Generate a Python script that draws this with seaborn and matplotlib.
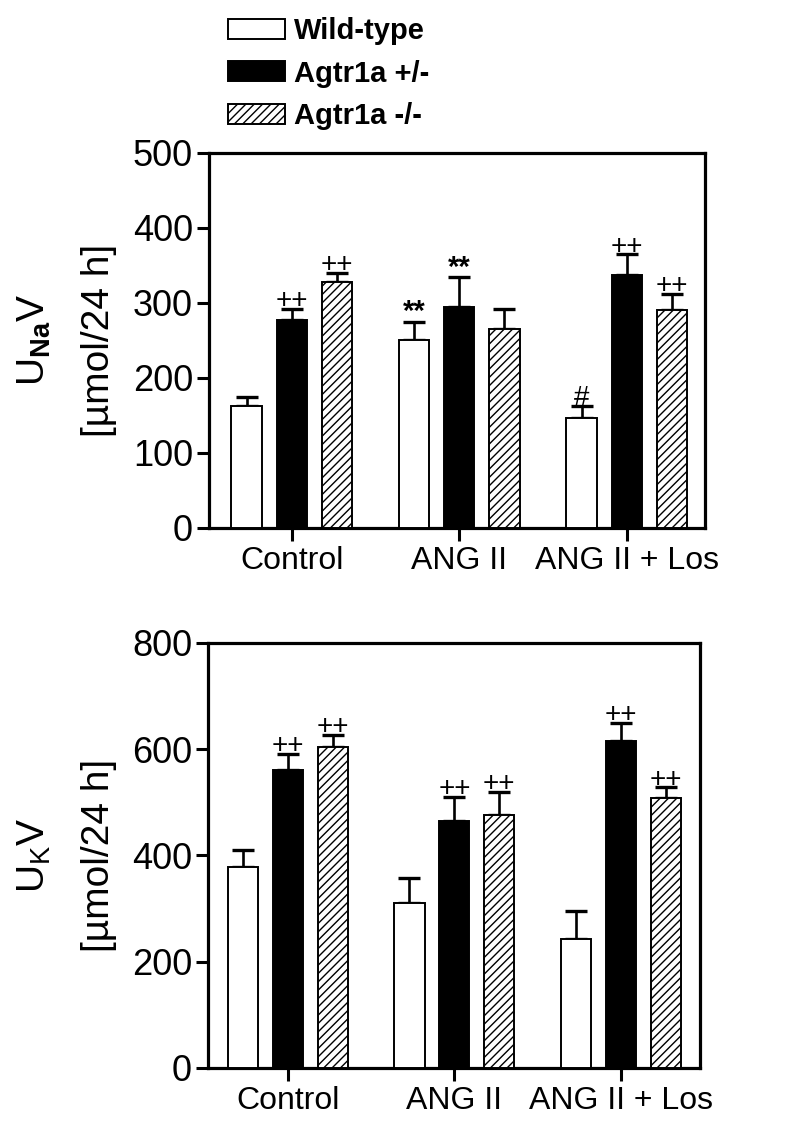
import numpy as np
import pandas as pd
import matplotlib
matplotlib.use("Agg")
import matplotlib.pyplot as plt
from matplotlib.patches import Patch
from matplotlib.container import BarContainer
import seaborn as sns

sns.set_style("ticks")
plt.rcParams['font.family'] = ['Liberation Sans', 'DejaVu Sans']
plt.rcParams['mathtext.fontset'] = 'custom'
plt.rcParams['mathtext.rm'] = 'Liberation Sans'
plt.rcParams['mathtext.bf'] = 'Liberation Sans:bold'
plt.rcParams['mathtext.it'] = 'Liberation Sans:italic'
plt.rcParams['hatch.linewidth'] = 1.0
for k in ['text.color', 'axes.labelcolor', 'xtick.color', 'ytick.color']:
    plt.rcParams[k] = 'black'

groups = ["Control", "ANG II", "ANG II + Los"]
genotypes = ["Wild-type", "Agtr1a +/-", "Agtr1a -/-"]

# sodium excretion (umol/24 h), one list per genotype in group order
una_wt = [163, 251, 147]
una_het = [277, 295, 337]
una_ko = [328, 265, 291]
una_wt_err = [11, 24, 16]
una_het_err = [15, 39, 28]
una_ko_err = [12, 27, 21]
una_marks_wt = ["", "**", "#"]
una_marks_het = ["++", "**", "++"]
una_marks_ko = ["++", "", "++"]

# potassium excretion (umol/24 h)
uk_wt = [378, 310, 242]
uk_het = [560, 465, 615]
uk_ko = [605, 476, 508]
uk_wt_err = [32, 48, 54]
uk_het_err = [31, 46, 35]
uk_ko_err = [22, 44, 20]
uk_marks_wt = ["", "", ""]
uk_marks_het = ["++", "++", "++"]
uk_marks_ko = ["++", "++", "++"]

hatches = ["", "", "////"]


def draw_panel(ax, means, errs, marks, ymax, ystep, ylabel, xlim):
    df = pd.DataFrame({
        "group": np.tile(groups, 3),
        "genotype": np.repeat(genotypes, 3),
        "value": np.concatenate(means),
    })
    sns.barplot(data=df, x="group", y="value", hue="genotype", order=groups,
                hue_order=genotypes, palette=["white", "black", "white"],
                saturation=1, width=0.81, gap=0.33, edgecolor="black",
                linewidth=1.4, errorbar=None, legend=False, ax=ax, zorder=3)

    bar_conts = [c for c in ax.containers if isinstance(c, BarContainer)]
    for i, cont in enumerate(bar_conts):
        bars = sorted(cont.patches, key=lambda p: p.get_x())
        xs = [p.get_x() + p.get_width() / 2 for p in bars]
        hs = [p.get_height() for p in bars]
        for p in bars:
            p.set_hatch(hatches[i])
        ax.errorbar(xs, hs, yerr=[np.zeros(3), errs[i]], fmt="none",
                    ecolor="black", elinewidth=1.9, capsize=8, capthick=2.4,
                    zorder=2)
        for x, h, e, m in zip(xs, hs, errs[i], marks[i]):
            if m:
                star = m.startswith("*")
                ax.annotate(m, (x, h + e), xytext=(0, 1 if star else 0.5),
                            textcoords="offset points", ha="center",
                            va="baseline", fontsize=21 if star else 20,
                            fontweight="bold" if star else "normal",
                            color="black")

    ax.set_xlim(*xlim)
    ax.set_ylim(0, ymax)
    ax.set_yticks(np.arange(0, ymax + 1, ystep))
    ax.set_xlabel("")
    ax.set_ylabel(ylabel, fontsize=28, linespacing=2.0)
    ax.yaxis.set_label_coords(-0.185, 0.5)
    ax.tick_params(axis="y", labelsize=26, length=8.5, width=2.2, pad=3)
    ax.tick_params(axis="x", labelsize=23, length=9, width=2.2, pad=4)
    for s in ax.spines.values():
        s.set_visible(True)
        s.set_linewidth(2.3)
        s.set_color("black")


fig = plt.figure(figsize=(8, 11.33), dpi=100)
ax1 = fig.add_axes([0.26125, 0.534, 0.62, 0.331])
ax2 = fig.add_axes([0.26, 0.0574, 0.615, 0.3751])

draw_panel(ax1, [una_wt, una_het, una_ko], [una_wt_err, una_het_err, una_ko_err],
           [una_marks_wt, una_marks_het, una_marks_ko], 500, 100,
           r"U$_{\mathbf{Na}}$V" + "\n[µmol/24 h]", (-0.494, 2.467))
draw_panel(ax2, [uk_wt, uk_het, uk_ko], [uk_wt_err, uk_het_err, uk_ko_err],
           [uk_marks_wt, uk_marks_het, uk_marks_ko], 800, 200,
           r"U$_{\mathrm{K}}$V" + "\n[µmol/24 h]", (-0.48, 2.475))

handles = [
    Patch(facecolor="white", edgecolor="black", linewidth=1.4),
    Patch(facecolor="black", edgecolor="black", linewidth=1.4),
    Patch(facecolor="white", edgecolor="black", linewidth=1.4, hatch="////"),
]
fig.legend(handles, genotypes, loc="upper left", bbox_to_anchor=(0.285, 0.985),
           frameon=False, borderpad=0, borderaxespad=0, handlelength=1.95,
           handleheight=0.68, handletextpad=0.3, labelspacing=0.5,
           prop={"weight": "bold", "size": 21})

fig.savefig("out.png", dpi=100, facecolor="white")
